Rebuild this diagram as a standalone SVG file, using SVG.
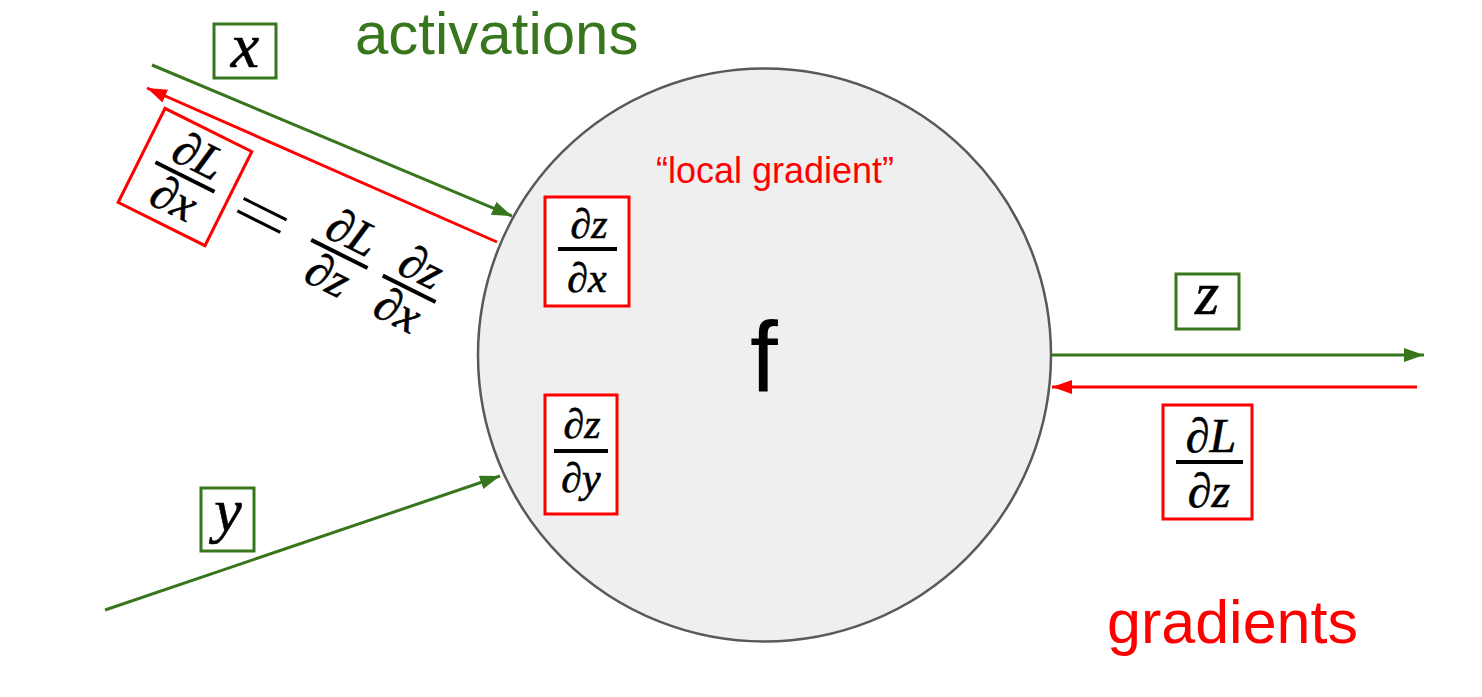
<svg xmlns="http://www.w3.org/2000/svg" width="1482" height="697" viewBox="0 0 1482 697">
<style>
.lbl{font-family:"Liberation Sans",Arial,sans-serif}
.math{font-family:"Liberation Serif","Times New Roman",serif;font-style:italic;fill:#000;stroke:#000;stroke-width:0.6;text-anchor:middle}
.gbox{fill:#fff;stroke:#38761d;stroke-width:3}
.rbox{fill:#fff;stroke:#ff0000;stroke-width:3}
.bar{stroke:#000;stroke-width:4}
.g{stroke:#38761d;stroke-width:3;fill:none}
.r{stroke:#ff0000;stroke-width:3;fill:none}
</style>
<defs>
<marker id="ag" markerUnits="userSpaceOnUse" markerWidth="22" markerHeight="16" refX="20" refY="7" orient="auto"><path d="M0,0 L20,7 L0,14 z" fill="#38761d"/></marker>
<marker id="ar" markerUnits="userSpaceOnUse" markerWidth="22" markerHeight="16" refX="20" refY="7" orient="auto"><path d="M0,0 L20,7 L0,14 z" fill="#ff0000"/></marker>
</defs>
<rect width="1482" height="697" fill="#fff"/>
<g id="node-f">
<circle cx="764.5" cy="355" r="286.5" fill="#efefef" stroke="#595959" stroke-width="2.5"/>
<text class="lbl" x="764" y="392" font-size="100" text-anchor="middle" fill="#000">f</text>
<text class="lbl" x="775" y="183" font-size="36" text-anchor="middle" fill="#ff0000">“local gradient”</text>
</g>
<g id="connectors">
<line class="g" x1="152" y1="65" x2="512" y2="216" marker-end="url(#ag)"/>
<line class="r" x1="497" y1="242" x2="147" y2="88" marker-end="url(#ar)"/>
<line class="g" x1="105" y1="610" x2="500" y2="476" marker-end="url(#ag)"/>
<line class="g" x1="1051" y1="355" x2="1424" y2="355" marker-end="url(#ag)"/>
<line class="r" x1="1417" y1="387" x2="1052" y2="387" marker-end="url(#ar)"/>
</g>
<g id="label-activations"><text class="lbl" x="355" y="54" font-size="60" fill="#38761d">activations</text></g>
<g id="label-gradients"><text class="lbl" x="1107" y="643" font-size="61" fill="#ff0000">gradients</text></g>
<g id="box-x">
<rect class="gbox" x="214" y="24" width="62" height="54"/>
<text class="math" x="245" y="67" font-size="64">x</text>
</g>
<g id="box-y">
<rect class="gbox" x="201" y="488" width="53" height="63"/>
<text class="math" x="228" y="531" font-size="62">y</text>
</g>
<g id="box-z">
<rect class="gbox" x="1176" y="274" width="63" height="55"/>
<text class="math" x="1207" y="314" font-size="62">z</text>
</g>
<g id="box-dzdx">
<rect class="rbox" x="545" y="197" width="84" height="109"/>
<text class="math" x="589" y="238" font-size="42">∂z</text>
<line class="bar" x1="558" y1="249" x2="617" y2="249"/>
<text class="math" x="587" y="292" font-size="42">∂x</text>
</g>
<g id="box-dzdy">
<rect class="rbox" x="545" y="395" width="72" height="119"/>
<text class="math" x="582" y="438" font-size="42">∂z</text>
<line class="bar" x1="554" y1="451" x2="608" y2="451"/>
<text class="math" x="581" y="492" font-size="42">∂y</text>
</g>
<g id="box-dLdz">
<rect class="rbox" x="1163" y="405" width="89" height="114"/>
<text class="math" x="1211" y="452" font-size="48">∂L</text>
<line class="bar" x1="1176" y1="462" x2="1243" y2="462"/>
<text class="math" x="1209" y="507" font-size="48">∂z</text>
</g>
<g id="eq-dLdx" transform="translate(185,177) rotate(26.5)">
<rect class="rbox" x="-48.5" y="-52.5" width="97" height="105"/>
<text class="math" x="3" y="-9" font-size="48">∂L</text>
<line class="bar" x1="-33" y1="0" x2="33" y2="0"/>
<text class="math" x="0" y="40" font-size="48">∂x</text>
<line x1="62" y1="-7" x2="110" y2="-7" stroke="#000" stroke-width="3"/>
<line x1="62" y1="7" x2="110" y2="7" stroke="#000" stroke-width="3"/>
<text class="math" x="175" y="-9" font-size="48">∂L</text>
<line class="bar" x1="141" y1="0" x2="204" y2="0"/>
<text class="math" x="172" y="40" font-size="48">∂z</text>
<text class="math" x="252" y="-9" font-size="48">∂z</text>
<line class="bar" x1="221" y1="0" x2="280" y2="0"/>
<text class="math" x="250" y="40" font-size="48">∂x</text>
</g>
</svg>
